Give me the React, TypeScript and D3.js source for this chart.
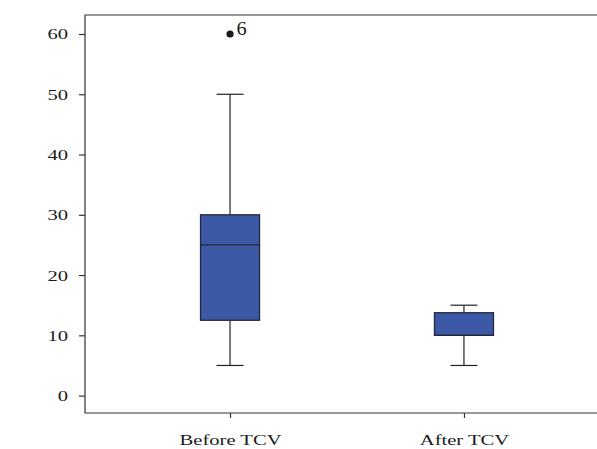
import * as d3 from 'd3';
import { useEffect, useRef } from 'react';

// box plot values
const categories = ['Before TCV', 'After TCV'];
const whiskerLow = [5, 5];
const q1 = [12.5, 10];
const median = [25, 10];
const q3 = [30, 13.75];
const whiskerHigh = [50, 15];
const outlierCategory = ['Before TCV'];
const outlierValue = [60];
const outlierLabel = ['6'];
const yTicks = [0, 10, 20, 30, 40, 50, 60];

const FONT = '"Liberation Serif", "Times New Roman", serif';
const STRETCH = 1.33; // source text is drawn wide

function App() {
  const ref = useRef<SVGSVGElement>(null);

  useEffect(() => {
    const width = 597;
    const height = 449;
    const svg = d3.select(ref.current);
    svg.selectAll('*').remove();
    svg.attr('width', width).attr('height', height);

    const margin = { top: 15, left: 85, bottom: 413 };

    const y = d3.scaleLinear().domain([0, 60]).range([395.6, 34]);
    const x = d3.scalePoint().domain(categories).range([margin.left, 609]).padding(0.62);
    const boxW = 59;
    const capW = 27;

    // frame (left, top, bottom; right edge is off canvas)
    svg.append('path')
      .attr('d', `M${width + 5},${margin.top}H${margin.left}V${margin.bottom}H${width + 5}`)
      .attr('fill', 'none')
      .attr('stroke', '#333')
      .attr('stroke-width', 1.2);

    // Y axis
    const gy = svg.append('g')
      .attr('transform', `translate(${margin.left},0)`)
      .call(d3.axisLeft(y).tickValues(yTicks).tickSize(6).tickPadding(11));
    gy.select('.domain').remove();
    gy.selectAll('line').attr('stroke', '#333').attr('stroke-width', 1.2);
    gy.selectAll('text').each(function () {
      const t = d3.select(this);
      const tx = +t.attr('x');
      t.attr('x', 0).attr('transform', `translate(${tx},0) scale(${STRETCH},1)`);
    });
    gy.selectAll('text')
      .attr('font-family', FONT)
      .attr('font-size', 15.5)
      .attr('fill', '#1a1a1a');

    // X axis
    const gx = svg.append('g')
      .attr('transform', `translate(0,${margin.bottom})`)
      .call(d3.axisBottom(x).tickSize(5).tickPadding(16));
    gx.select('.domain').remove();
    gx.selectAll('line').attr('stroke', '#333').attr('stroke-width', 1.2);
    gx.selectAll('text').each(function () {
      const t = d3.select(this);
      const ty = +t.attr('y');
      t.attr('y', 0).attr('dy', '0.71em').attr('transform', `translate(0,${ty}) scale(${STRETCH},1)`);
    });
    gx.selectAll('text')
      .attr('font-family', FONT)
      .attr('font-size', 15.5)
      .attr('fill', '#1a1a1a');

    const idx = categories.map((_, i) => i);
    const boxes = svg.append('g');

    // whiskers
    boxes.selectAll('line.whisker')
      .data(idx)
      .enter()
      .append('line')
      .attr('class', 'whisker')
      .attr('x1', (i) => x(categories[i])!)
      .attr('x2', (i) => x(categories[i])!)
      .attr('y1', (i) => y(whiskerLow[i]))
      .attr('y2', (i) => y(whiskerHigh[i]))
      .attr('stroke', '#222')
      .attr('stroke-width', 1.2);

    const caps = [...idx.map((i) => ({ i, v: whiskerLow[i] })), ...idx.map((i) => ({ i, v: whiskerHigh[i] }))];
    boxes.selectAll('line.cap')
      .data(caps)
      .enter()
      .append('line')
      .attr('class', 'cap')
      .attr('x1', (d) => x(categories[d.i])! - capW / 2)
      .attr('x2', (d) => x(categories[d.i])! + capW / 2)
      .attr('y1', (d) => y(d.v))
      .attr('y2', (d) => y(d.v))
      .attr('stroke', '#222')
      .attr('stroke-width', 1.2);

    // boxes
    boxes.selectAll('rect')
      .data(idx)
      .enter()
      .append('rect')
      .attr('x', (i) => x(categories[i])! - boxW / 2)
      .attr('width', boxW)
      .attr('y', (i) => y(q3[i]))
      .attr('height', (i) => y(q1[i]) - y(q3[i]))
      .attr('fill', '#3c59a5')
      .attr('stroke', '#23283a')
      .attr('stroke-width', 1.3);

    // medians
    boxes.selectAll('line.median')
      .data(idx)
      .enter()
      .append('line')
      .attr('class', 'median')
      .attr('x1', (i) => x(categories[i])! - boxW / 2)
      .attr('x2', (i) => x(categories[i])! + boxW / 2)
      .attr('y1', (i) => y(median[i]))
      .attr('y2', (i) => y(median[i]))
      .attr('stroke', '#23283a')
      .attr('stroke-width', 1.3);

    // outliers
    const out = svg.append('g');
    out.selectAll('circle')
      .data(outlierValue)
      .enter()
      .append('circle')
      .attr('cx', (_, i) => x(outlierCategory[i])!)
      .attr('cy', (v) => y(v))
      .attr('r', 3.6)
      .attr('fill', '#1a1a1a');
    out.selectAll('text')
      .data(outlierValue)
      .enter()
      .append('text')
      .attr('transform', (v, i) => `translate(${x(outlierCategory[i])! + 6.5},${y(v) + 1}) scale(1.1,1)`)
      .attr('font-family', FONT)
      .attr('font-size', 18.5)
      .attr('fill', '#1a1a1a')
      .text((_, i) => outlierLabel[i]);
  }, []);

  return (
    <div style={{ position: 'absolute', left: 0, top: 0 }}>
      <svg ref={ref} style={{ display: 'block', background: '#fff' }}></svg>
    </div>
  );
}

export default App;
